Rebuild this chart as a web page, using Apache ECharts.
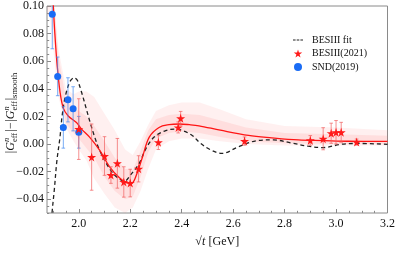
<!DOCTYPE html>
<html><head><meta charset="utf-8">
<script src="https://cdn.jsdelivr.net/npm/echarts@6/dist/echarts.min.js"></script>
<style>html,body{margin:0;padding:0;background:#fff}#c{width:398px;height:253px}</style>
</head><body><div id="c"></div>
<script>
// ---- tick labels ----
const xTicks = [2.0, 2.2, 2.4, 2.6, 2.8, 3.0, 3.2];
const yTicks = [-0.04, -0.02, 0.00, 0.02, 0.04, 0.06, 0.08, 0.10];

// ---- BESIII(2021) data ----
const besX   = [2.0, 2.05, 2.1, 2.125, 2.15, 2.175, 2.2, 2.2324, 2.3094, 2.3864, 2.396, 2.6444, 2.9, 2.95, 2.981, 3.0, 3.02, 3.08];
const besY   = [0.0108, -0.0095, -0.0087, -0.0225, -0.014, -0.0275, -0.0283, -0.018, 0.0012, 0.012, 0.0186, 0.0021, 0.0026, 0.0038, 0.0078, 0.0085, 0.0085, 0.0014];
const besErr = [0.022, 0.024, 0.014, 0.006, 0.018, 0.011, 0.010, 0.0095, 0.0052, 0.004, 0.005, 0.003, 0.0035, 0.008, 0.0073, 0.0085, 0.0072, 0.0022];

// ---- SND(2019) data ----
const sndX   = [1.897, 1.918, 1.940, 1.958, 1.978, 2.000];
const sndY   = [0.094, 0.049, 0.012, 0.032, 0.0255, 0.0085];
const sndErr = [0.025, 0.014, 0.015, 0.016, 0.016, 0.0115];

// ---- red fit curve ----
const fitX = [1.895, 1.901, 1.907, 1.916, 1.927, 1.940, 1.959, 1.991, 2.010, 2.042, 2.081, 2.120, 2.158, 2.184, 2.205, 2.225, 2.248, 2.274, 2.312, 2.351, 2.390, 2.430, 2.467, 2.550, 2.660, 2.750, 2.853, 2.950, 3.046, 3.200];
const fitY = [0.125, 0.100, 0.080, 0.057, 0.038, 0.026, 0.0203, 0.0156, 0.011, 0.005, -0.0045, -0.0165, -0.0245, -0.0280, -0.0285, -0.0220, -0.0092, 0.0050, 0.0120, 0.0140, 0.0145, 0.0140, 0.0132, 0.0100, 0.0062, 0.0045, 0.0030, 0.0025, 0.0020, 0.0019];

// ---- BESIII fit (dashed) ----
const besFitX = [1.893, 1.896, 1.905, 1.915, 1.927, 1.935, 1.946, 1.965, 1.982, 1.995, 2.010, 2.030, 2.042, 2.062, 2.081, 2.107, 2.132, 2.155, 2.177, 2.203, 2.235, 2.261, 2.293, 2.338, 2.377, 2.401, 2.441, 2.470, 2.510, 2.557, 2.621, 2.698, 2.756, 2.827, 2.891, 2.949, 3.020, 3.084, 3.200];
const besFitY = [-0.060, -0.050, -0.033, -0.012, 0.005, 0.020, 0.033, 0.045, 0.048, 0.046, 0.038, 0.025, 0.017, 0.005, -0.0045, -0.014, -0.021, -0.025, -0.027, -0.022, -0.014, -0.0033, 0.005, 0.0097, 0.0108, 0.0099, 0.0062, 0.001, -0.004, -0.0068, -0.002, 0.0026, 0.003, 0.0007, -0.0016, -0.0026, -0.0002, 0.0004, -0.0002];

// ---- uncertainty band ----
const bandX   = [1.877, 1.890, 1.900, 1.920, 1.950, 1.980, 2.000, 2.030, 2.060, 2.100, 2.140, 2.180, 2.210, 2.240, 2.270, 2.300, 2.350, 2.400, 2.470, 2.550, 2.650, 2.800, 3.000, 3.200];
const outerHi = [0.150, 0.130, 0.110, 0.070, 0.040, 0.036, 0.038, 0.038, 0.034, 0.022, 0.010, -0.004, -0.008, 0.002, 0.014, 0.024, 0.028, 0.030, 0.030, 0.025, 0.018, 0.013, 0.012, 0.010];
const outerLo = [0.095, 0.090, 0.070, 0.035, 0.012, 0.002, -0.004, -0.012, -0.025, -0.036, -0.046, -0.050, -0.046, -0.034, -0.018, -0.004, 0.002, 0.004, 0.004, 0.002, 0.000, -0.001, -0.001, -0.001];
const innerHi = [0.150, 0.150, 0.115, 0.065, 0.032, 0.026, 0.024, 0.020, 0.013, 0.002, -0.010, -0.018, -0.019, -0.005, 0.010, 0.018, 0.021, 0.022, 0.021, 0.017, 0.012, 0.008, 0.007, 0.006];
const innerLo = [0.120, 0.115, 0.090, 0.042, 0.015, 0.008, 0.004, -0.003, -0.010, -0.024, -0.034, -0.040, -0.038, -0.024, -0.006, 0.004, 0.008, 0.009, 0.008, 0.005, 0.002, 0.0005, 0.000, 0.000];

// minor tick positions
const xMinor = []; for (let v = 1.90; v < 3.2001; v += 0.05) xMinor.push(+v.toFixed(2));
const yMinor = []; for (let v = -0.05; v < 0.1001; v += 0.005) yMinor.push(+v.toFixed(3));

const FONT = '"Liberation Serif", "DejaVu Serif", serif';
const STAR = 'path://M50,0 L61,35 L98,35 L68,57 L79,91 L50,70 L21,91 L32,57 L2,35 L39,35 Z';
const DASH = 'path://M0,3.5h2.6v1h-2.6z M3.7,3.5h2.6v1h-2.6z M7.4,3.5h2.6v1h-2.6z M0,0h0.01v0.01h-0.01z M0,7.99h0.01v0.01h-0.01z';

const pair = (xs, ys) => xs.map((x, i) => [x, ys[i]]);

function bandRender(lo, hi, color) {
  return function (params, api) {
    const pts = [];
    for (let i = 0; i < bandX.length; i++) pts.push(api.coord([bandX[i], hi[i]]));
    for (let i = bandX.length - 1; i >= 0; i--) pts.push(api.coord([bandX[i], lo[i]]));
    return { type: 'polygon', shape: { points: pts }, style: { fill: color } };
  };
}
function errRender(color) {
  return function (params, api) {
    const x = api.value(0);
    const p1 = api.coord([x, api.value(2)]), p2 = api.coord([x, api.value(1)]);
    const w = 1.8;
    const st = { stroke: color, lineWidth: 0.9 };
    return { type: 'group', children: [
      { type: 'line', shape: { x1: p1[0], y1: p1[1], x2: p2[0], y2: p2[1] }, style: st },
      { type: 'line', shape: { x1: p1[0] - w, y1: p1[1], x2: p1[0] + w, y2: p1[1] }, style: st },
      { type: 'line', shape: { x1: p2[0] - w, y1: p2[1], x2: p2[0] + w, y2: p2[1] }, style: st }
    ] };
  };
}

// ---- rotated y-axis title ----
const cv = document.createElement('canvas').getContext('2d');
function tw(t, f) { cv.font = f; return cv.measureText(t).width; }
const fMain = '12px ' + FONT, fIt = 'italic 12px ' + FONT, fSm = '8.5px ' + FONT, fSmIt = 'italic 8.5px ' + FONT;
const pieces = [
  { t: '|', f: fMain }, { t: 'G', f: fIt },
  { stack: [{ t: 'n', f: fSmIt, dy: -4.5 }, { t: 'eff', f: fSm, dy: 3.5 }] },
  { t: '|', f: fMain, pre: 0.5 }, { t: '\u2212', f: fMain, pre: 0.5 }, { t: '|', f: fMain, pre: 0.5 }, { t: 'G', f: fIt },
  { stack: [{ t: 'n', f: fSmIt, dy: -4.5 }, { t: 'eff', f: fSm, dy: 3.5 }] },
  { t: '|', f: fMain, pre: 0.5 }, { t: 'smooth', f: fSm, dy: 3.5 }
];
const yTitle = []; let cx = 0;
pieces.forEach(p => {
  cx += p.pre || 0;
  if (p.stack) {
    let m = 0;
    p.stack.forEach(s => { yTitle.push({ type: 'text', x: cx, y: s.dy, style: { text: s.t, font: s.f, fill: '#111', align: 'left', verticalAlign: 'middle' } }); m = Math.max(m, tw(s.t, s.f)); });
    cx += m + 0.5;
  } else {
    yTitle.push({ type: 'text', x: cx, y: p.dy || 0, style: { text: p.t, font: p.f, fill: '#111', align: 'left', verticalAlign: 'middle' } });
    cx += tw(p.t, p.f);
  }
});
yTitle.forEach(e => e.x -= cx / 2);

const chart = echarts.init(document.getElementById('c'), null, { renderer: 'canvas' });
const axCommonX = { type: 'value', min: 1.8765, max: 3.2, gridIndex: 0, position: 'bottom' };
const axCommonY = { type: 'value', min: -0.05, max: 0.10, gridIndex: 0, position: 'left' };
const noLine = { show: false, onZero: false };
chart.setOption({
  animation: false,
  backgroundColor: '#fff',
  grid: { left: 47, right: 8, top: 6, bottom: 35, show: true, borderColor: '#8a8a8a', borderWidth: 1, backgroundColor: 'transparent' },
  legend: {
    orient: 'vertical', left: 288, top: 30, itemWidth: 18, itemHeight: 8, itemGap: 3.5,
    textStyle: { fontFamily: FONT, fontSize: 10, color: '#111' },
    data: [
      { name: 'BESIII fit', icon: DASH, itemStyle: { color: '#222' } },
      { name: 'BESIII(2021)', icon: STAR, itemStyle: { color: '#ff1a1a' } },
      { name: 'SND(2019)', icon: 'circle', itemStyle: { color: '#1a6cf5' } }
    ]
  },
  xAxis: [
    Object.assign({}, axCommonX, {
      name: '{a|\u221A}{it|t} {a|[GeV]}', nameLocation: 'middle', nameGap: 23,
      nameTextStyle: { rich: { a: { fontFamily: FONT, fontSize: 12, color: '#111' }, it: { fontFamily: FONT, fontSize: 12, fontStyle: 'italic', color: '#111' } } },
      axisLine: noLine, splitLine: { show: false },
      axisTick: { show: true, inside: true, length: 4, lineStyle: { color: '#8a8a8a' }, customValues: xTicks },
      axisLabel: { customValues: xTicks, fontFamily: FONT, fontSize: 12, color: '#111', margin: 5, formatter: v => v.toFixed(1) }
    }),
    Object.assign({}, axCommonX, {
      axisLine: noLine, splitLine: { show: false }, axisLabel: { show: false },
      axisTick: { show: true, inside: true, length: 2.2, lineStyle: { color: '#8a8a8a' }, customValues: xMinor }
    })
  ],
  yAxis: [
    Object.assign({}, axCommonY, {
      axisLine: noLine, splitLine: { show: false },
      axisTick: { show: true, inside: true, length: 4, lineStyle: { color: '#8a8a8a' }, customValues: yTicks },
      axisLabel: { customValues: yTicks, fontFamily: FONT, fontSize: 12, color: '#111', margin: 3,
        formatter: v => (v < -1e-9 ? '\u2212' : '') + Math.abs(v).toFixed(2) }
    }),
    Object.assign({}, axCommonY, {
      axisLine: noLine, splitLine: { show: false }, axisLabel: { show: false },
      axisTick: { show: true, inside: true, length: 2.2, lineStyle: { color: '#8a8a8a' }, customValues: yMinor }
    })
  ],
  graphic: [{ type: 'group', x: 11, y: 113, rotation: Math.PI / 2, children: yTitle }],
  series: [
    { type: 'custom', name: 'bandOuter', clip: true, silent: true, z: 1, data: [[2.5, 0]], renderItem: bandRender(outerLo, outerHi, 'rgba(255,120,120,0.11)') },
    { type: 'custom', name: 'bandInner', clip: true, silent: true, z: 1, data: [[2.5, 0]], renderItem: bandRender(innerLo, innerHi, 'rgba(255,120,120,0.15)') },
    { type: 'line', name: 'BESIII fit', data: pair(besFitX, besFitY), smooth: 0.35, symbol: 'none', clip: true, z: 3,
      itemStyle: { color: '#222' }, lineStyle: { color: '#222', width: 1.3, type: [4, 3] } },
    { type: 'line', name: 'fit', data: pair(fitX, fitY), smooth: 0.35, symbol: 'none', clip: true, z: 4,
      lineStyle: { color: '#ff1414', width: 1.3 } },
    { type: 'custom', name: 'errB', clip: true, z: 5, encode: { x: 0, y: [1, 2] },
      data: sndX.map((x, i) => [x, sndY[i] - sndErr[i], sndY[i] + sndErr[i]]), renderItem: errRender('rgba(70,140,240,0.8)') },
    { type: 'custom', name: 'errR', clip: true, z: 5, encode: { x: 0, y: [1, 2] },
      data: besX.map((x, i) => [x, besY[i] - besErr[i], besY[i] + besErr[i]]), renderItem: errRender('rgba(240,90,90,0.75)') },
    { type: 'scatter', name: 'SND(2019)', data: pair(sndX, sndY), symbol: 'circle', symbolSize: 7, z: 6, itemStyle: { color: '#1a6cf5', opacity: 1 } },
    { type: 'scatter', name: 'BESIII(2021)', data: pair(besX, besY), symbol: STAR, symbolSize: 9, z: 7, itemStyle: { color: '#ff1a1a', opacity: 1 } }
  ]
});
</script></body></html>
